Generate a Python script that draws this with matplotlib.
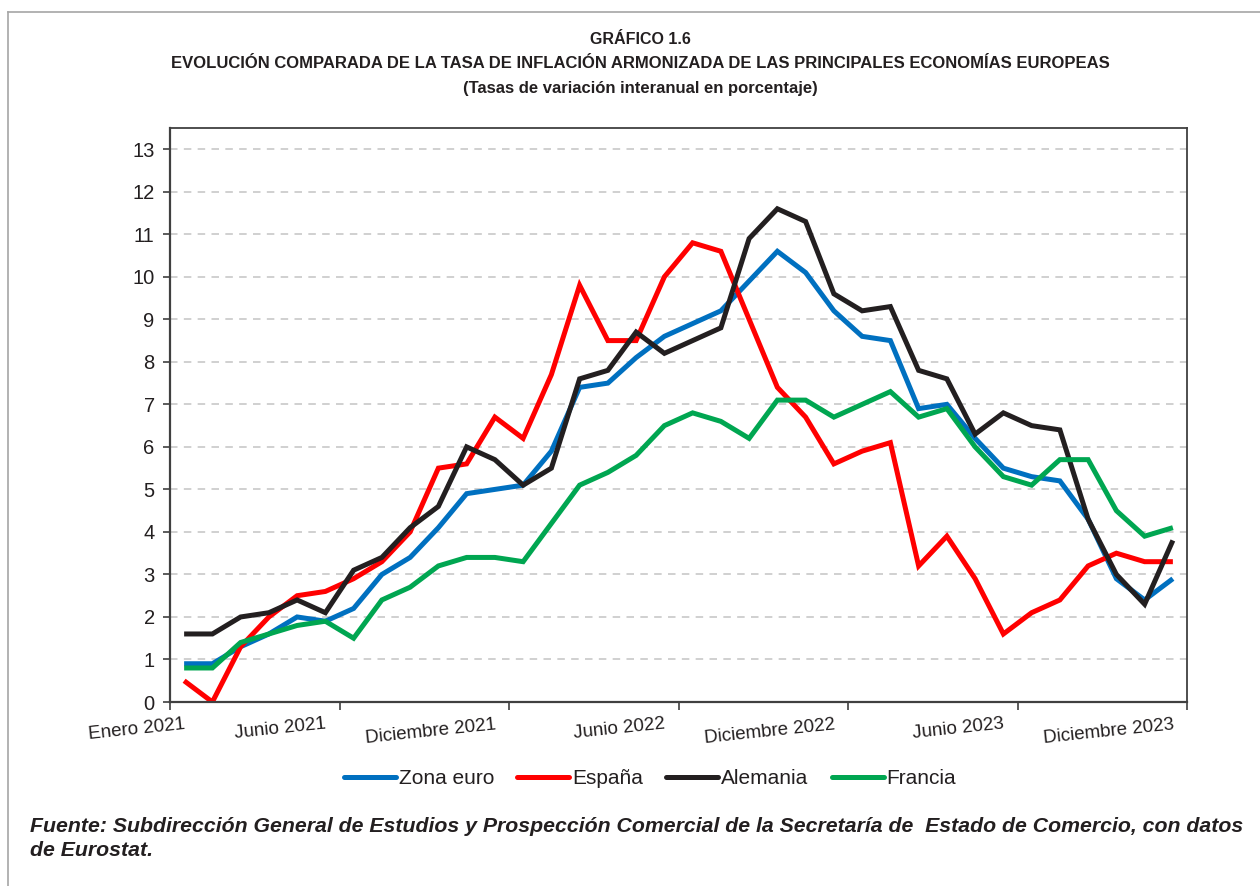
import matplotlib
matplotlib.use("Agg")
import matplotlib.pyplot as plt
from matplotlib.lines import Line2D
import numpy as np

plt.rcParams['font.family'] = ['Liberation Sans', 'DejaVu Sans']

# ---------------- data ----------------
months = ["Ene 2021", "Feb 2021", "Mar 2021", "Abr 2021", "May 2021", "Jun 2021",
          "Jul 2021", "Ago 2021", "Sep 2021", "Oct 2021", "Nov 2021", "Dic 2021",
          "Ene 2022", "Feb 2022", "Mar 2022", "Abr 2022", "May 2022", "Jun 2022",
          "Jul 2022", "Ago 2022", "Sep 2022", "Oct 2022", "Nov 2022", "Dic 2022",
          "Ene 2023", "Feb 2023", "Mar 2023", "Abr 2023", "May 2023", "Jun 2023",
          "Jul 2023", "Ago 2023", "Sep 2023", "Oct 2023", "Nov 2023", "Dic 2023"]

zona_euro = [0.9, 0.9, 1.3, 1.6, 2.0, 1.9, 2.2, 3.0, 3.4, 4.1, 4.9, 5.0,
             5.1, 5.9, 7.4, 7.5, 8.1, 8.6, 8.9, 9.2, 9.9, 10.6, 10.1, 9.2,
             8.6, 8.5, 6.9, 7.0, 6.2, 5.5, 5.3, 5.2, 4.3, 2.9, 2.4, 2.9]
espana = [0.5, 0.0, 1.3, 2.0, 2.5, 2.6, 2.9, 3.3, 4.0, 5.5, 5.6, 6.7,
          6.2, 7.7, 9.8, 8.5, 8.5, 10.0, 10.8, 10.6, 9.0, 7.4, 6.7, 5.6,
          5.9, 6.1, 3.2, 3.9, 2.9, 1.6, 2.1, 2.4, 3.2, 3.5, 3.3, 3.3]
alemania = [1.6, 1.6, 2.0, 2.1, 2.4, 2.1, 3.1, 3.4, 4.1, 4.6, 6.0, 5.7,
            5.1, 5.5, 7.6, 7.8, 8.7, 8.2, 8.5, 8.8, 10.9, 11.6, 11.3, 9.6,
            9.2, 9.3, 7.8, 7.6, 6.3, 6.8, 6.5, 6.4, 4.3, 3.0, 2.3, 3.8]
francia = [0.8, 0.8, 1.4, 1.6, 1.8, 1.9, 1.5, 2.4, 2.7, 3.2, 3.4, 3.4,
           3.3, 4.2, 5.1, 5.4, 5.8, 6.5, 6.8, 6.6, 6.2, 7.1, 7.1, 6.7,
           7.0, 7.3, 6.7, 6.9, 6.0, 5.3, 5.1, 5.7, 5.7, 4.5, 3.9, 4.1]

series_names = ["Zona euro", "España", "Alemania", "Francia"]
series_colors = ["#0070C0", "#FF0000", "#231F20", "#00A651"]

label_idx = [0, 5, 11, 17, 23, 29, 35]
label_text = ["Enero 2021", "Junio 2021", "Diciembre 2021", "Junio 2022",
              "Diciembre 2022", "Junio 2023", "Diciembre 2023"]
yticks = list(range(0, 14))

# ---------------- figure ----------------
W, H = 1260, 886
fig = plt.figure(figsize=(W / 100, H / 100), dpi=100)
fig.patch.set_facecolor("white")

# outer frame (top and left grey lines)
fig.add_artist(Line2D([8 / W, 1.0], [1 - 12 / H, 1 - 12 / H], transform=fig.transFigure,
                      color="#A6A6A6", lw=1.2))
fig.add_artist(Line2D([8 / W, 8 / W], [0, 1 - 12 / H], transform=fig.transFigure,
                      color="#A6A6A6", lw=1.2))

ax = fig.add_axes([170 / W, 1 - 702 / H, (1187 - 170) / W, (702 - 128) / H])

x = np.arange(len(months))
for vals, name, col in zip([zona_euro, espana, alemania, francia], series_names, series_colors):
    ax.plot(x, vals, color=col, lw=3.6, label=name, solid_joinstyle="miter",
            solid_capstyle="butt")

ax.set_xlim(-0.5, len(months) - 0.5)
ax.set_ylim(0, 13.5)

ax.set_yticks(yticks)
ax.set_yticklabels([str(v) for v in yticks], fontsize=14.5, color="#231F20")
ax.tick_params(axis="y", direction="out", length=5, width=1.2, color="#404040", pad=6)

ax.set_xticks(np.arange(-0.5, len(months), 6))
ax.set_xticklabels([])
ax.tick_params(axis="x", which="major", direction="out", length=6, width=1.2, color="#404040")
ax.set_xticks(label_idx, minor=True)
ax.set_xticklabels(label_text, minor=True, rotation=6, ha="right", va="top",
                   rotation_mode="anchor", fontsize=13.5, color="#231F20")
ax.tick_params(axis="x", which="minor", length=0, pad=10)

ax.grid(axis="y", color="#C8C8C8", lw=1.2, linestyle=(0, (4.5, 3.8)))
ax.set_axisbelow(True)
for side in ["left", "bottom"]:
    ax.spines[side].set_linewidth(1.6)
    ax.spines[side].set_color("#404040")
for side in ["top", "right"]:
    ax.spines[side].set_linewidth(1.3)
    ax.spines[side].set_color("#404040")

# legend
leg = fig.legend(loc="center", bbox_to_anchor=(650 / W, 1 - 779 / H), ncol=4, frameon=False,
                 fontsize=15, handlelength=2.5, handletextpad=0.15, columnspacing=1.1)
for h in leg.legend_handles:
    h.set_linewidth(3.6)
    h.set_solid_capstyle("round")
for t in leg.get_texts():
    t.set_color("#231F20")

# titles
fig.text(640 / W, 1 - 40 / H, "GRÁFICO 1.6", ha="center", va="center",
         fontsize=11.5, fontweight="bold", color="#231F20")
fig.text(640 / W, 1 - 63 / H,
         "EVOLUCIÓN COMPARADA DE LA TASA DE INFLACIÓN ARMONIZADA DE LAS PRINCIPALES ECONOMÍAS EUROPEAS",
         ha="center", va="center", fontsize=12, fontweight="bold", color="#231F20")
fig.text(640 / W, 1 - 89 / H, "(Tasas de variación interanual en porcentaje)",
         ha="center", va="center", fontsize=12, fontweight="bold", color="#231F20")

# footnote
fig.text(30 / W, 1 - 827 / H,
         "Fuente: Subdirección General de Estudios y Prospección Comercial de la Secretaría de  Estado de Comercio, con datos",
         ha="left", va="center", fontsize=15.3, fontweight="bold", fontstyle="italic", color="#231F20")
fig.text(30 / W, 1 - 850 / H, "de Eurostat.",
         ha="left", va="center", fontsize=15.3, fontweight="bold", fontstyle="italic", color="#231F20")

fig.savefig("out.png", dpi=100)
